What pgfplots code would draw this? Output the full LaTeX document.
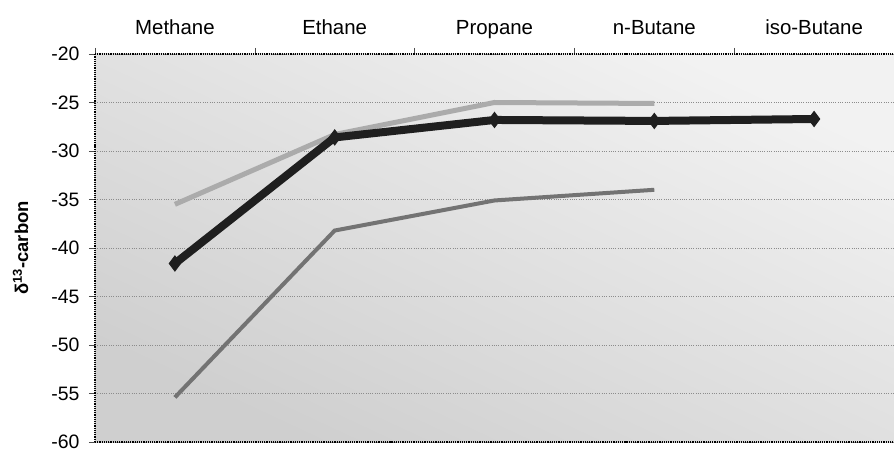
\documentclass[border=0pt]{standalone}
\usepackage{fontspec}
\setmainfont{Liberation Sans}
\usepackage{pgfplots}
\pgfplotsset{compat=1.18}

\begin{document}
\begin{tikzpicture}
\begin{axis}[
    scale only axis,
    width=799bp, height=388bp,
    xmin=-0.5, xmax=4.5,
    ymin=-60, ymax=-20,
    axis x line*=box,
    axis y line*=left,
    axis line style={black, line width=1.2bp, densely dotted, -},
    tick align=outside,
    major tick length=6bp,
    tick style={black!70, line width=0.6bp},
    xtick pos=right,
    xticklabel pos=right,
    xtick={-0.5,0.5,1.5,2.5,3.5},
    xticklabels={},
    extra x ticks={0,1,2,3,4},
    extra x tick labels={Methane,Ethane,Propane,n-Butane,iso-Butane},
    extra x tick style={major tick length=0pt, grid=none},
    ytick={-60,-55,...,-20},
    ymajorgrids,
    grid style={black!45, line width=0.3bp, dotted},
    xticklabel style={font=\fontsize{20.5}{24}\selectfont, anchor=base, yshift=19bp},
    yticklabel style={font=\fontsize{19.5}{23}\selectfont, xshift=-6bp},
    /pgf/number format/assume math mode=true,
    ylabel={\textbf{δ\textsuperscript{13}-carbon}},
    ylabel style={font=\fontsize{18.5}{22}\selectfont,
        at={(axis description cs:-0.093,0.5)}, anchor=center, rotate=0},
    axis background/.style={shade, top color=black!5, bottom color=black!19,
        shading angle=-25},
    clip=false,
]
% upper faint series
\addplot[black!33, line width=5bp] coordinates {(0,-35.5) (1,-28.3) (2,-25.0) (3,-25.1)};
% lower series
\addplot[black!55, line width=4bp] coordinates {(0,-55.4) (1,-38.2) (2,-35.1) (3,-34.0)};
% main series
\addplot[black!88, line width=8bp, mark=diamond*, mark size=7.5bp,
    mark options={line width=1bp}] coordinates {(0,-41.6) (1,-28.6) (2,-26.8) (3,-26.9) (4,-26.7)};
\end{axis}
\pgfresetboundingbox
\useasboundingbox ([shift={(-95bp,-15bp)}]current axis.south west) rectangle ([shift={(0bp,54bp)}]current axis.north east);
\end{tikzpicture}
\end{document}
